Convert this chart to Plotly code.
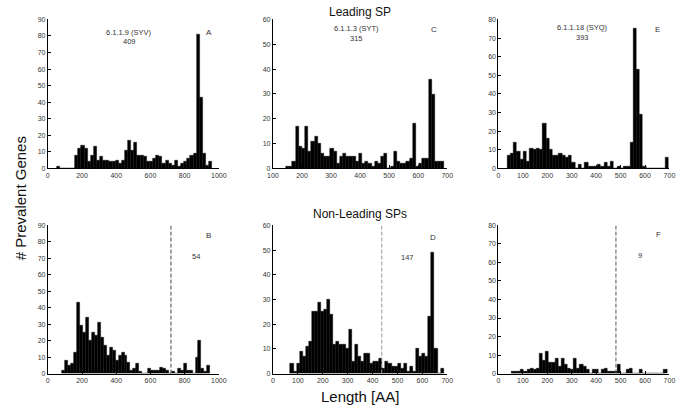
import numpy as np
import plotly.graph_objects as go
from plotly.subplots import make_subplots

# ---------------- data (histogram counts, 50 bins each) ----------------
# bin range [min length, max length] for each panel
range_A = [50, 960]
range_B = [84, 949]
range_C = [145, 690]
range_D = [70, 685]
range_E = [36, 697]
range_F = [53, 690]

counts_A = [1, 0, 0, 0, 0, 0, 8, 12, 14, 12, 4, 8, 13, 5, 7, 5, 5, 4, 4, 5,
            3, 5, 11, 17, 11, 16, 8, 8, 7, 4, 4, 6, 8, 7, 3, 5, 3, 2, 5, 1,
            3, 4, 6, 8, 9, 81, 43, 9, 2, 4]
counts_B = [2, 8, 5, 6, 13, 43, 29, 25, 34, 20, 25, 23, 31, 22, 17, 11, 16, 14, 8, 11,
            13, 11, 7, 2, 3, 6, 1, 0, 0, 3, 2, 2, 2, 4, 3, 2, 0, 1, 0, 3,
            2, 6, 2, 2, 0, 10, 20, 3, 1, 5]
counts_C = [1, 1, 3, 17, 9, 8, 17, 7, 11, 13, 10, 6, 5, 5, 8, 7, 2, 5, 6, 5,
            5, 5, 3, 6, 2, 3, 2, 1, 3, 2, 5, 6, 0, 1, 7, 3, 2, 2, 3, 4,
            18, 1, 2, 4, 4, 36, 30, 3, 3, 3]
counts_D = [4, 1, 4, 9, 7, 11, 13, 25, 25, 29, 25, 26, 30, 24, 12, 13, 12, 12, 10, 18,
            5, 12, 7, 5, 8, 8, 4, 5, 5, 6, 2, 5, 4, 3, 3, 4, 2, 4, 1, 3,
            1, 10, 7, 8, 7, 23, 49, 10, 0, 2]
counts_E = [7, 8, 14, 9, 5, 9, 4, 11, 10, 11, 10, 24, 16, 10, 7, 7, 8, 7, 6, 7,
            3, 0, 2, 0, 3, 1, 1, 1, 2, 1, 3, 1, 4, 0, 1, 0, 1, 1, 14, 75,
            53, 29, 1, 0, 0, 0, 0, 0, 0, 6]
counts_F = [1, 1, 1, 2, 1, 2, 3, 2, 3, 11, 7, 12, 6, 6, 8, 4, 8, 5, 3, 2,
            8, 3, 5, 4, 2, 0, 2, 2, 0, 2, 3, 1, 1, 1, 5, 0, 0, 2, 3, 0,
            0, 2, 0, 0, 0, 0, 0, 0, 0, 2]

# thresholds (dashed lines) for non-leading panels
threshold_B = 720
threshold_D = 437
threshold_F = 481

# axis ranges / ticks
xrange_A = [0, 1000]; xticks_A = [0, 200, 400, 600, 800, 1000]
xrange_C = [100, 700]; xticks_C = [100, 200, 300, 400, 500, 600, 700]
xrange_E = [0, 700]; xticks_E = [0, 100, 200, 300, 400, 500, 600, 700]
yrange_A = [0, 90]; yrange_B = [0, 90]
yrange_C = [0, 60]; yrange_D = [0, 60]
yrange_E = [0, 80]; yrange_F = [0, 80]

# annotation texts
label_A = ["6.1.1.9 (SYV)", "409"]
label_C = ["6.1.1.3 (SYT)", "315"]
label_E = ["6.1.1.18 (SYQ)", "393"]
count_B = "54"; count_D = "147"; count_F = "9"
titles = ["Leading SP", "Non-Leading SPs"]
xlabel = "Length [AA]"
ylabel = "# Prevalent Genes"

# ---------------- figure ----------------
W, H = 685, 409
fig = make_subplots(rows=2, cols=3)

def px_x(a, b):
    return [a / W, b / W]

def px_y(top, bottom):
    return [1 - bottom / H, 1 - top / H]

xdom = [px_x(42.7, 217.3), px_x(272.5, 450.5), px_x(502.7, 677.3)]
ydom = [px_y(15.7, 167.3), px_y(225.3, 376.0)]

panels = [
    (1, 1, counts_A, range_A, xrange_A, xticks_A, yrange_A),
    (1, 2, counts_C, range_C, xrange_C, xticks_C, yrange_C),
    (1, 3, counts_E, range_E, xrange_E, xticks_E, yrange_E),
    (2, 1, counts_B, range_B, xrange_A, xticks_A, yrange_B),
    (2, 2, counts_D, range_D, xrange_E, xticks_E, yrange_D),
    (2, 3, counts_F, range_F, xrange_E, xticks_E, yrange_F),
]

tickfont = dict(family="Liberation Sans, Arial, sans-serif", size=7, color="#333333")
axis_idx = {}
for i, (r, c, counts, rng, xr, xt, yr) in enumerate(panels):
    n = len(counts)
    edges = np.linspace(rng[0], rng[1], n + 1)
    centers = (edges[:-1] + edges[1:]) / 2
    width = edges[1] - edges[0]
    fig.add_trace(go.Bar(x=centers, y=counts, width=width,
                         marker=dict(color="black", line=dict(color="black", width=0.4)),
                         showlegend=False, hoverinfo="x+y"), row=r, col=c)
    k = (r - 1) * 3 + c
    axis_idx[(r, c)] = k
    xa = "xaxis" if k == 1 else f"xaxis{k}"
    ya = "yaxis" if k == 1 else f"yaxis{k}"
    fig.layout[xa].update(domain=xdom[c - 1], range=xr, tickvals=xt,
                          ticks="inside", ticklen=3, tickcolor="black",
                          showline=True, linecolor="black", linewidth=1,
                          showgrid=False, zeroline=False, tickfont=tickfont,
                          fixedrange=True)
    fig.layout[ya].update(domain=ydom[r - 1], range=yr, dtick=10,
                          ticks="inside", ticklen=3, tickcolor="black",
                          showline=True, linecolor="black", linewidth=1,
                          showgrid=False, zeroline=False, tickfont=tickfont,
                          fixedrange=True)

def ref(r, c):
    k = axis_idx[(r, c)]
    return ("x" if k == 1 else f"x{k}"), ("y" if k == 1 else f"y{k}")

# dashed threshold lines
for (r, c, thr, yr, col) in [(2, 1, threshold_B, yrange_B, "#444444"),
                             (2, 2, threshold_D, yrange_D, "#999999"),
                             (2, 3, threshold_F, yrange_F, "#555555")]:
    xr_, yr_ = ref(r, c)
    fig.add_shape(type="line", xref=xr_, yref=yr_, x0=thr, x1=thr, y0=0, y1=yr[1],
                  line=dict(color=col, width=1, dash="4px,2px"))

small = dict(family="Liberation Sans, Arial, sans-serif", size=7.5, color="#333333")

def ann(r, c, x, y, text, size=7.5):
    xr_, yr_ = ref(r, c)
    f = dict(small); f["size"] = size
    fig.add_annotation(xref=xr_, yref=yr_, x=x, y=y, text=text, showarrow=False,
                       font=f, xanchor="center", yanchor="middle")

ann(1, 1, 475, 82, label_A[0]); ann(1, 1, 475, 76.5, label_A[1]); ann(1, 1, 940, 82, "A", 8)
ann(1, 2, 388, 56.5, label_C[0]); ann(1, 2, 388, 52.5, label_C[1]); ann(1, 2, 655, 56, "C", 8)
ann(1, 3, 346, 75.5, label_E[0]); ann(1, 3, 346, 70.5, label_E[1]); ann(1, 3, 653, 74.5, "E", 8)
ann(2, 1, 868, 71, count_B); ann(2, 1, 940, 84, "B", 8)
ann(2, 2, 542, 47, count_D); ann(2, 2, 642, 55, "D", 8)
ann(2, 3, 579, 63.5, count_F); ann(2, 3, 654, 75, "F", 8)

big = dict(family="Liberation Sans, Arial, sans-serif", color="#111111")
fig.add_annotation(xref="paper", yref="paper", x=361 / W, y=1 - 8 / H, text=titles[0],
                   showarrow=False, font=dict(big, size=12), xanchor="center", yanchor="middle")
fig.add_annotation(xref="paper", yref="paper", x=361 / W, y=1 - 214 / H, text=titles[1],
                   showarrow=False, font=dict(big, size=12), xanchor="center", yanchor="middle")
fig.add_annotation(xref="paper", yref="paper", x=361 / W, y=1 - 399 / H, text=xlabel,
                   showarrow=False, font=dict(big, size=15), xanchor="center", yanchor="middle")
fig.add_annotation(xref="paper", yref="paper", x=15 / W, y=1 - 198 / H, text=ylabel,
                   textangle=-90, showarrow=False, font=dict(big, size=15),
                   xanchor="center", yanchor="middle")

fig.update_layout(width=W, height=H, autosize=False,
                  margin=dict(l=0, r=0, t=0, b=0),
                  paper_bgcolor="white", plot_bgcolor="white",
                  bargap=0, barmode="overlay", showlegend=False)

fig.write_html("out.html", config={"displayModeBar": False},
               post_script="document.body.style.margin='0';document.body.style.overflow='hidden';")
